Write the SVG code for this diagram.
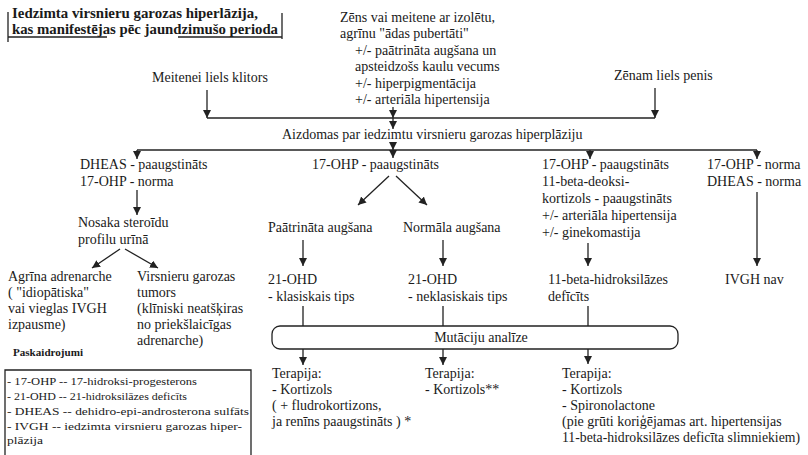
<svg xmlns="http://www.w3.org/2000/svg" width="808" height="455" viewBox="0 0 808 455">
<style>
text{font-family:'Liberation Serif','Times New Roman',serif;font-size:14px;fill:#1a1a1a}
.t{font-weight:bold;font-size:14px}
.s{font-size:10px}
.sb{font-size:10px;font-weight:bold}
.ln{stroke:#222;stroke-width:1.3;fill:none}
.ar{stroke:#222;stroke-width:1.3;fill:none;marker-end:url(#ah)}
</style>
<defs>
<marker id="ah" markerUnits="userSpaceOnUse" markerWidth="8" markerHeight="9" refX="8" refY="4" orient="auto">
<path d="M0,0 L8,4 L0,8 z" fill="#222"/>
</marker>
</defs>
<rect width="808" height="455" fill="#fff"/>
<g id="title">
<text class="t" x="12" y="18" textLength="246" lengthAdjust="spacingAndGlyphs">Iedzimta virsnieru garozas hiperlāzija,</text>
<text class="t" x="12" y="34" textLength="266" lengthAdjust="spacingAndGlyphs">kas manifestējas pēc jaundzimušo perioda</text>
<path class="ln" d="M8,12 V42 M8,37 H107 M178,37 H282 M282,13 V39"/>
</g>

<g id="n_top">
<text x="340" y="22">Zēns vai meitene ar izolētu,</text>
<text x="340" y="38">agrīnu "ādas pubertāti"</text>
<text x="355" y="55">+/-  paātrināta augšana un</text>
<text x="355" y="71">apsteidzošs kaulu vecums</text>
<text x="355" y="88">+/-  hiperpigmentācija</text>
<text x="355" y="104">+/-  arteriāla hipertensija</text>
</g>
<g id="n_girl"><text x="152" y="82">Meitenei liels klitors</text></g>
<g id="n_boy"><text x="614" y="80">Zēnam liels penis</text></g>
<g id="n_susp"><text x="282" y="139">Aizdomas par iedzimtu virsnieru garozas hiperplāziju</text></g>

<g id="n_c1"><text x="80" y="169">DHEAS - paaugstināts</text><text x="80" y="186">17-OHP - norma</text></g>
<g id="n_c2"><text x="312" y="169">17-OHP - paaugstināts</text></g>
<g id="n_c3">
<text x="542" y="169">17-OHP - paaugstināts</text>
<text x="542" y="186">11-beta-deoksi-</text>
<text x="542" y="203">kortizols - paaugstināts</text>
<text x="542" y="220">+/-  arteriāla hipertensija</text>
<text x="542" y="237">+/-  ginekomastija</text>
</g>
<g id="n_c4"><text x="707" y="169">17-OHP - norma</text><text x="707" y="186">DHEAS - norma</text></g>

<g id="n_steroid"><text x="78" y="227">Nosaka steroīdu</text><text x="78" y="244">profilu urīnā</text></g>
<g id="n_fast"><text x="268" y="232">Paātrināta augšana</text></g>
<g id="n_norm"><text x="403" y="232">Normāla augšana</text></g>

<g id="n_agr">
<text x="8" y="281">Agrīna adrenarche</text>
<text x="8" y="297">( "idiopātiska"</text>
<text x="8" y="313">vai vieglas IVGH</text>
<text x="8" y="329">izpausme)</text>
</g>
<g id="n_tum">
<text x="137" y="281">Virsnieru garozas</text>
<text x="137" y="297">tumors</text>
<text x="137" y="313">(klīniski neatšķiras</text>
<text x="137" y="329">no priekšlaicīgas</text>
<text x="137" y="345">adrenarche)</text>
</g>

<g id="n_ohd1"><text x="268" y="284">21-OHD</text><text x="268" y="301">- klasiskais tips</text></g>
<g id="n_ohd2"><text x="408" y="284">21-OHD</text><text x="408" y="301">- neklasiskais tips</text></g>
<g id="n_11b"><text x="548" y="284">11-beta-hidroksilāzes</text><text x="548" y="301">defīcīts</text></g>
<g id="n_nav"><text x="725" y="284">IVGH nav</text></g>

<g id="n_mut">
<rect x="272" y="326" width="406" height="23" rx="8" class="ln"/>
<text x="481" y="342" text-anchor="middle">Mutāciju analīze</text>
</g>

<g id="n_ter1">
<text x="272" y="378">Terapija:</text>
<text x="272" y="394">- Kortizols</text>
<text x="272" y="410">( + fludrokortizons,</text>
<text x="272" y="426">ja renīns paaugstināts ) *</text>
</g>
<g id="n_ter2">
<text x="425" y="378">Terapija:</text>
<text x="425" y="394">- Kortizols**</text>
</g>
<g id="n_ter3">
<text x="562" y="378">Terapija:</text>
<text x="562" y="394">- Kortizols</text>
<text x="562" y="410">- Spironolactone</text>
<text x="562" y="426">(pie grūti koriģējamas art. hipertensijas</text>
<text x="562" y="442" textLength="238" lengthAdjust="spacingAndGlyphs">11-beta-hidroksilāzes deficīta slimniekiem)</text>
</g>

<g id="legend">
<text class="sb" x="13" y="356" textLength="70" lengthAdjust="spacingAndGlyphs">Paskaidrojumi</text>
<path class="ln" d="M5,460 V370 H251 V460"/>
<text class="s" x="7" y="385" textLength="190" lengthAdjust="spacingAndGlyphs">- 17-OHP -- 17-hidroksi-progesterons</text>
<text class="s" x="7" y="400" textLength="180" lengthAdjust="spacingAndGlyphs">- 21-OHD -- 21-hidroksilāzes deficīts</text>
<text class="s" x="7" y="415" textLength="242" lengthAdjust="spacingAndGlyphs">- DHEAS -- dehidro-epi-androsterona sulfāts</text>
<text class="s" x="7" y="430" textLength="235" lengthAdjust="spacingAndGlyphs">- IVGH -- iedzimta virsnieru garozas hiper-</text>
<text class="s" x="7" y="444" textLength="36" lengthAdjust="spacingAndGlyphs">plāzija</text>
</g>
<g id="connectors">
<path class="ln" d="M207,118 H655"/>
<path class="ar" d="M207,90 V118"/>
<path class="ar" d="M655,88 V118"/>
<path class="ar" d="M393,107 V118"/>
<path class="ar" d="M393,118 V129"/>
<path class="ln" d="M137,150 H757"/>
<path class="ar" d="M393,142 V150"/>
<path class="ar" d="M393,150 V158"/>
<path class="ar" d="M137,150 V159"/>
<path class="ar" d="M590,150 V159"/>
<path class="ar" d="M757,150 V159"/>
<path class="ar" d="M137,190 V215"/>
<path class="ar" d="M389,176 L358,205"/>
<path class="ar" d="M396,176 L427,205"/>
<path class="ar" d="M120,249 L92,268"/>
<path class="ar" d="M125,249 L158,268"/>
<path class="ar" d="M303,240 V266"/>
<path class="ar" d="M443,240 V266"/>
<path class="ar" d="M588,243 V266"/>
<path class="ar" d="M757,192 V266"/>
<path class="ln" d="M303,306 V326 M443,306 V326 M588,306 V326"/>
<path class="ar" d="M303,349 V365"/>
<path class="ar" d="M443,349 V365"/>
<path class="ar" d="M588,349 V364"/>
</g>
</svg>
